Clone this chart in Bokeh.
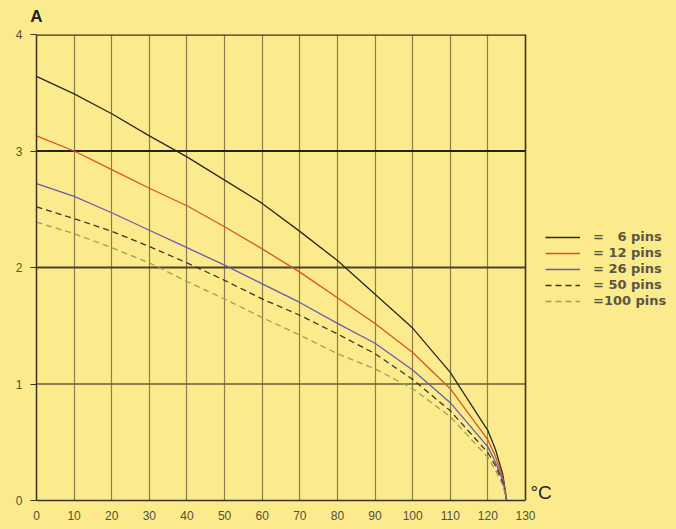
from bokeh.plotting import figure
from bokeh.models import Legend, LegendItem, FixedTicker, LinearAxis, Label
from bokeh.embed import file_html
from bokeh.resources import INLINE

temps = [0, 10, 20, 30, 40, 50, 60, 70, 80, 90, 100, 110, 120, 122, 124, 125]
pins6 = [3.64, 3.49, 3.32, 3.13, 2.95, 2.75, 2.55, 2.31, 2.06, 1.77, 1.48, 1.10, 0.60, 0.44, 0.22, 0.0]
pins12 = [3.13, 3.00, 2.84, 2.68, 2.53, 2.35, 2.16, 1.96, 1.74, 1.52, 1.27, 0.96, 0.52, 0.38, 0.19, 0.0]
pins26 = [2.72, 2.61, 2.47, 2.32, 2.17, 2.02, 1.86, 1.70, 1.52, 1.35, 1.12, 0.84, 0.46, 0.33, 0.17, 0.0]
pins50 = [2.52, 2.42, 2.31, 2.18, 2.04, 1.89, 1.73, 1.59, 1.43, 1.26, 1.04, 0.77, 0.41, 0.30, 0.15, 0.0]
pins100 = [2.39, 2.29, 2.17, 2.04, 1.88, 1.73, 1.57, 1.42, 1.26, 1.13, 0.96, 0.72, 0.37, 0.26, 0.13, 0.0]
series_labels = ["=   6 pins", "= 12 pins", "= 26 pins", "= 50 pins", "=100 pins"]
x_ticks = list(range(0, 131, 10))
y_ticks = [0, 1, 2, 3, 4]
y_unit = "A"
x_unit = "°C"

BG = "#FBEB8C"
GRID = "#8C7C48"
DARK = "#3a3320"

x_lo, x_hi = x_ticks[0], x_ticks[-1]
y_lo, y_hi = y_ticks[0], y_ticks[-1]
FRAME_W = 640
PLOT_W = 489  # pixel width of the 0..130 region
x_view_end = x_hi * FRAME_W / PLOT_W

p = figure(frame_width=FRAME_W, frame_height=466, x_range=(x_lo, x_view_end), y_range=(y_lo, y_hi),
           output_backend="svg", toolbar_location=None,
           min_border_left=36, min_border_right=0, min_border_top=34, min_border_bottom=29)
p.background_fill_color = BG
p.border_fill_color = BG
p.outline_line_color = None

p.xaxis.ticker = FixedTicker(ticks=x_ticks)
p.yaxis.ticker = FixedTicker(ticks=y_ticks)
p.xaxis.bounds = (x_lo, x_hi)
for ax in (p.xaxis[0], p.yaxis[0]):
    ax.axis_line_color = DARK
    ax.axis_line_width = 1.5
    ax.major_label_text_font = "Liberation Sans"
    ax.major_label_text_font_size = "12px"
    ax.major_label_text_color = "#55503a"
    ax.minor_tick_line_color = None
    ax.major_tick_line_color = DARK
p.xaxis.major_tick_out = 0
p.xaxis.major_tick_in = 0
p.xaxis.major_label_standoff = 10
p.yaxis.major_tick_out = 6
p.yaxis.major_tick_in = 0
p.yaxis.major_label_standoff = 8

# unit label "A" above the y axis
top_axis = LinearAxis(ticker=FixedTicker(ticks=[x_lo]), major_label_overrides={x_lo: y_unit},
                      axis_line_color=None, major_tick_line_color=None,
                      minor_tick_line_color=None, major_label_standoff=3,
                      major_label_text_font="Liberation Sans",
                      major_label_text_font_style="bold",
                      major_label_text_font_size="17px", major_label_text_color="#222")
p.add_layout(top_axis, "above")

# vertical grid lines (130 closes the frame on the right)
p.xgrid.ticker = FixedTicker(ticks=x_ticks)
p.xgrid.bounds = (x_lo, x_hi)
p.xgrid.grid_line_color = GRID
p.xgrid.grid_line_width = 1.2
p.xgrid.level = "underlay"
p.ygrid.visible = False

# horizontal grid lines limited to the 0..130 region
p.segment(x0=x_lo, x1=x_hi, y0=y_ticks[1], y1=y_ticks[1], line_color="#6a5d35", line_width=1.4)
p.segment(x0=x_lo, x1=x_hi, y0=y_ticks[2], y1=y_ticks[2], line_color="#4a4228", line_width=2)
p.segment(x0=x_lo, x1=x_hi, y0=y_ticks[3], y1=y_ticks[3], line_color="#25241b", line_width=2)
p.segment(x0=x_lo, x1=x_hi, y0=y_ticks[4], y1=y_ticks[4], line_color=DARK, line_width=2.5)
p.segment(x0=x_hi, x1=x_hi, y0=y_lo, y1=y_hi, line_color=DARK, line_width=1.5)

r1 = p.line(temps, pins6, line_color="#2b2a20", line_width=1.3)
r2 = p.line(temps, pins12, line_color="#D9531E", line_width=1.3)
r3 = p.line(temps, pins26, line_color="#6A5CB0", line_width=1.3)
r4 = p.line(temps, pins50, line_color="#3a3528", line_width=1.3, line_dash="6 4")
r5 = p.line(temps, pins100, line_color="#9aa060", line_width=1.3, line_dash="6 4")

legend = Legend(items=[LegendItem(label=l, renderers=[r]) for l, r in
                       zip(series_labels, [r1, r2, r3, r4, r5])],
                location=(509, 192), background_fill_alpha=0, border_line_alpha=0,
                label_text_font="DejaVu Sans", label_text_font_style="bold",
                label_text_font_size="13px", label_text_color="#5a5545",
                glyph_width=35, glyph_height=12, spacing=1, label_standoff=13,
                padding=0, margin=0, label_height=12)
p.add_layout(legend)

p.add_layout(Label(x=494, y=-2, x_units="screen", y_units="screen", text=x_unit,
                   text_font="Liberation Sans", text_font_size="19px", text_color="#222"))

html = file_html(p, INLINE)
html = html.replace("<head>", "<head><style>body{background:%s;}</style>" % BG, 1)
open("out.html", "w").write(html)
